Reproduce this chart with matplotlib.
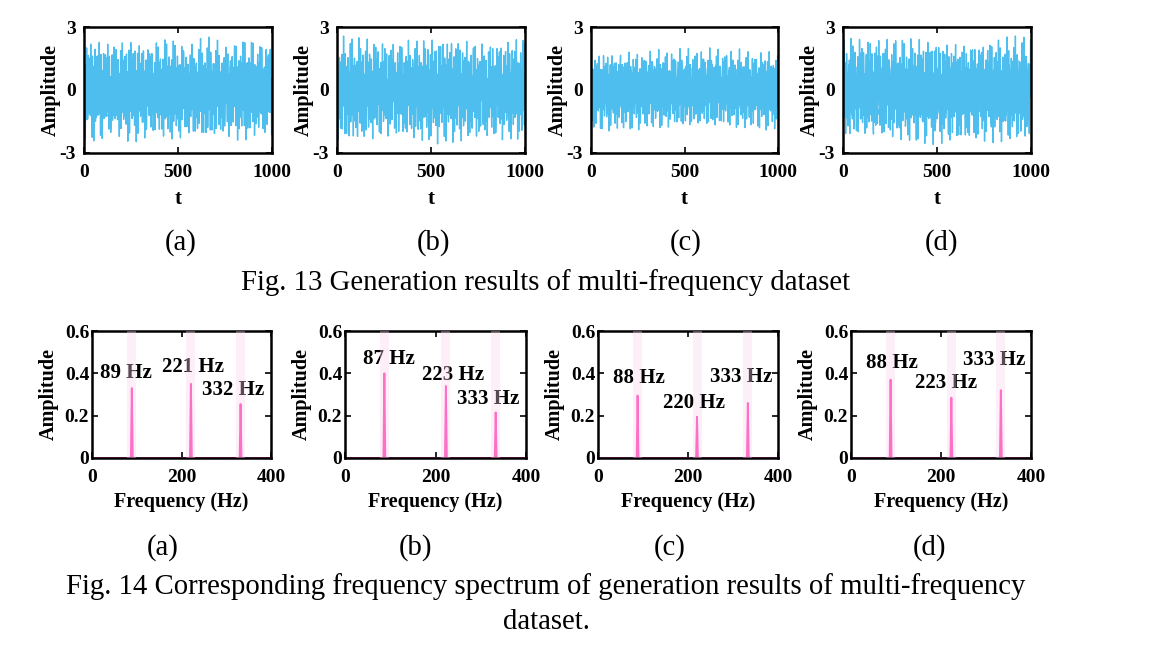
import numpy as np
import matplotlib
matplotlib.use("Agg")
import matplotlib.pyplot as plt

plt.rcParams['font.family'] = ['Liberation Serif', 'DejaVu Serif']
plt.rcParams['axes.unicode_minus'] = False

# ---------------- data ----------------
panel_letters = ["(a)", "(b)", "(c)", "(d)"]
# dominant frequencies (Hz) per generated sample
freqs_a = [89, 221, 332]
freqs_b = [87, 223, 333]
freqs_c = [88, 220, 333]
freqs_d = [88, 223, 333]
# spectrum peak heights per sample
heights_a = [0.33, 0.35, 0.255]
heights_b = [0.40, 0.34, 0.215]
heights_c = [0.295, 0.195, 0.26]
heights_d = [0.37, 0.285, 0.32]
# label positions (Hz, amplitude) of the peak annotations
label_pos_a = [(76, 0.40), (226, 0.43), (315, 0.32)]
label_pos_b = [(97, 0.47), (239, 0.39), (317, 0.28)]
label_pos_c = [(92, 0.378), (213, 0.26), (318, 0.383)]
label_pos_d = [(91, 0.45), (212, 0.354), (319, 0.463)]
phases = [0.3, 1.7, 2.9]
signal_scale = 2.7          # time-domain amplitude per unit spectral height
n_samples = 1000
fs = 1000.0

time_xticks = [0, 500, 1000]
time_yticks = [-3, 0, 3]
freq_xticks = [0, 200, 400]
freq_yticks = [0, 0.2, 0.4, 0.6]
freq_yticklabels = ["0", "0.2", "0.4", "0.6"]

fig13_caption = "Fig. 13 Generation results of multi-frequency dataset"
fig14_caption_1 = "Fig. 14 Corresponding frequency spectrum of generation results of multi-frequency"
fig14_caption_2 = "dataset."

all_freqs = [freqs_a, freqs_b, freqs_c, freqs_d]
all_heights = [heights_a, heights_b, heights_c, heights_d]
all_label_pos = [label_pos_a, label_pos_b, label_pos_c, label_pos_d]

# ---------------- style ----------------
blue = '#4DBEEE'
pink = '#FF3DB5'
band_color = '#FAD2EC'

W, H = 1160, 655
fig = plt.figure(figsize=(W / 100, H / 100), dpi=100)

def px_axes(x0, x1, y0, y1):
    return fig.add_axes([x0 / W, 1 - y1 / H, (x1 - x0) / W, (y1 - y0) / H])

top_boxes = [(84, 272), (337, 525), (591, 778), (843, 1031)]
bot_boxes = [(92, 271), (345, 526), (598, 778), (851, 1031)]

tick_kw = dict(direction='in', top=True, right=True, length=4, width=1.2,
               labelsize=14)

t = np.arange(n_samples)
for i in range(4):
    f_list = all_freqs[i]
    h_list = all_heights[i]
    sig = np.zeros(n_samples)
    for f, h, ph in zip(f_list, h_list, phases):
        sig += signal_scale * h * np.sin(2 * np.pi * f * t / fs + ph + i)

    # ---- time domain ----
    ax = px_axes(top_boxes[i][0], top_boxes[i][1], 27, 153)
    ax.plot(t, sig, color=blue, lw=1.0)
    ax.set_xlim(0, 1000)
    ax.set_ylim(-3, 3)
    ax.set_xticks(time_xticks)
    ax.set_yticks(time_yticks)
    ax.set_yticklabels([str(v) for v in time_yticks])
    ax.tick_params(**tick_kw)
    ax.tick_params(axis='x', pad=8)
    ax.tick_params(axis='y', pad=6)
    for lab in ax.get_xticklabels() + ax.get_yticklabels():
        lab.set_fontweight('bold')
    ax.set_xlabel('t', fontsize=15, fontweight='bold', labelpad=6)
    ax.set_ylabel('Amplitude', fontsize=14.5, fontweight='bold', labelpad=-1)
    for s in ax.spines.values():
        s.set_linewidth(1.8)

    # ---- spectrum (FFT of the sample) ----
    win = np.hanning(n_samples)
    spec = np.abs(np.fft.rfft(sig * win)) * 2 / win.sum() / signal_scale
    fr = np.fft.rfftfreq(n_samples, 1 / fs)
    ax2 = px_axes(bot_boxes[i][0], bot_boxes[i][1], 331, 458)
    ax2.plot(fr, spec, color=pink, lw=1.4, zorder=2)
    for f in f_list:
        ax2.axvspan(f - 10, f + 10, color=band_color, alpha=0.35, lw=0, zorder=5)
    for f, (lx, ly) in zip(f_list, all_label_pos[i]):
        ax2.text(lx, ly, f"{f} Hz", ha='center', va='center', fontsize=15,
                 fontweight='bold', zorder=4)
    ax2.set_xlim(0, 400)
    ax2.set_ylim(0, 0.6)
    ax2.set_xticks(freq_xticks)
    ax2.set_yticks(freq_yticks)
    ax2.set_yticklabels(freq_yticklabels)
    ax2.tick_params(**tick_kw)
    ax2.tick_params(axis='x', pad=8)
    ax2.tick_params(axis='y', pad=2)
    for lab in ax2.get_xticklabels() + ax2.get_yticklabels():
        lab.set_fontweight('bold')
    ax2.set_xlabel('Frequency (Hz)', fontsize=14.5, fontweight='bold', labelpad=4)
    ax2.set_ylabel('Amplitude', fontsize=14.5, fontweight='bold', labelpad=4)
    for s in ax2.spines.values():
        s.set_linewidth(1.8)

# ---------------- captions ----------------
top_letter_x = [181, 433, 686, 941]
bot_letter_x = [163, 415, 670, 930]
for i in range(4):
    fig.text(top_letter_x[i] / W, 1 - 243 / H, panel_letters[i], ha='center',
             va='center', fontsize=20.7)
    fig.text(bot_letter_x[i] / W, 1 - 548 / H, panel_letters[i], ha='center',
             va='center', fontsize=20.7)
fig.text(546 / W, 1 - 283 / H, fig13_caption, ha='center', va='center', fontsize=20.7)
fig.text(546 / W, 1 - 587 / H, fig14_caption_1, ha='center', va='center', fontsize=20.7)
fig.text(546 / W, 1 - 622 / H, fig14_caption_2, ha='center', va='center', fontsize=20.7)

fig.savefig('out.png', dpi=100)
